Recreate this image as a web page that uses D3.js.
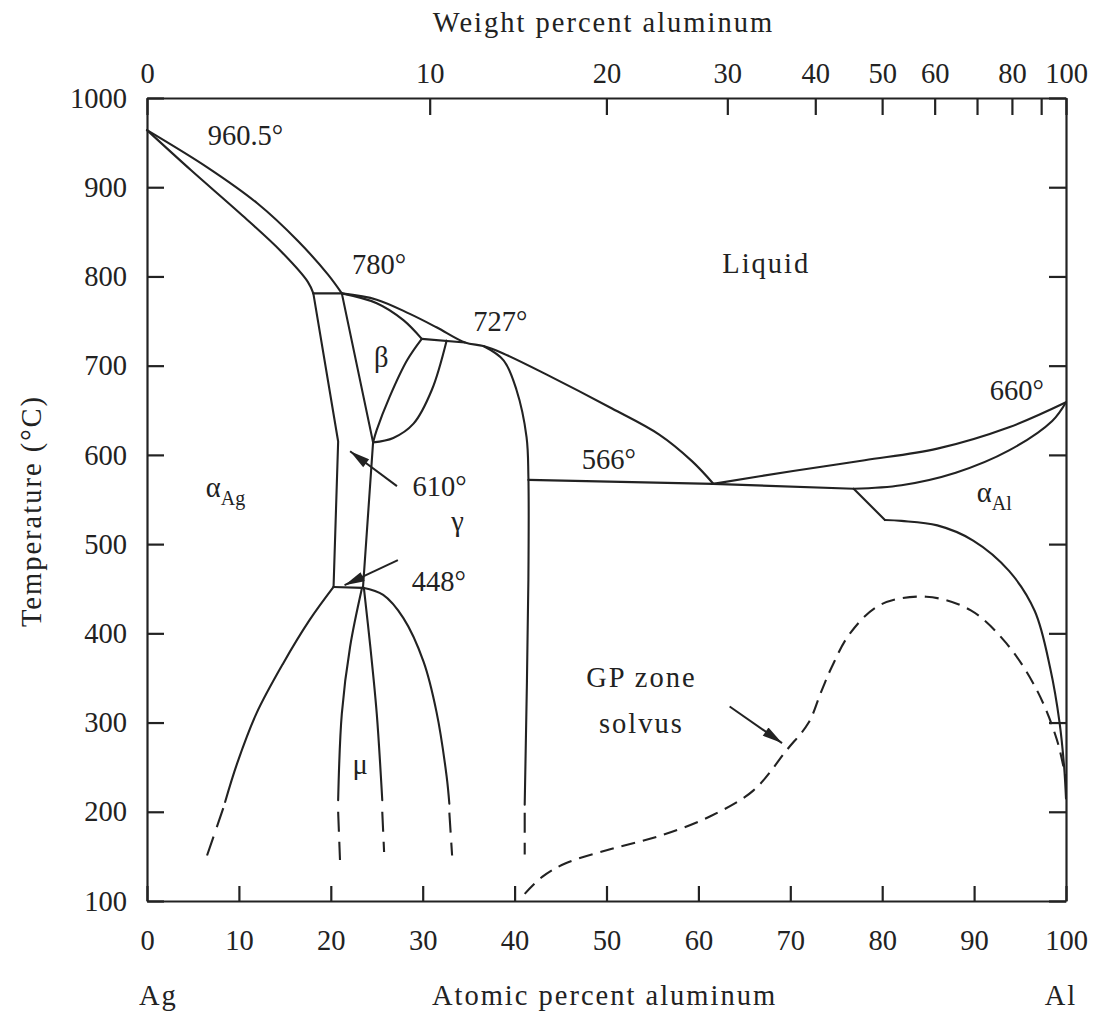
<!DOCTYPE html>
<head>
<meta charset="utf-8">
<style>
body { margin: 0; background: #fff; }
.axis path, .axis line { stroke: #222; stroke-width: 2.2px; }
.boundary { fill: none; stroke: #222; stroke-width: 2.1px; stroke-linejoin: round; stroke-linecap: round; }
.dashed { stroke-dasharray: 20,10; stroke-linecap: butt; }
.gp { stroke-dasharray: 14,8; stroke-linecap: butt; }
.arrow { fill: none; stroke: #222; stroke-width: 2px; }
</style>
<script src="https://d3js.org/d3.v7.min.js"></script>
</head>
<body>
<svg width="1106" height="1011"></svg>
<script>

// Axis ticks.
var atomicTicks = [0, 10, 20, 30, 40, 50, 60, 70, 80, 90, 100];
var tempTicks = [100, 200, 300, 400, 500, 600, 700, 800, 900, 1000];
var weightTicks = [0, 10, 20, 30, 40, 50, 60, 70, 80, 90, 100];
var weightLabels = ["0", "10", "20", "30", "40", "50", "60", "", "80", "", "100"];

// Phase boundaries, [atomic % Al, temperature in C].
var liquidusAg = [[0, 964], [6.6, 922], [12, 882], [16.4, 840], [19.7, 802], [21.2, 781]];
var solidusAg = [[0, 964], [4.8, 919], [10.2, 870], [14.6, 828], [17.5, 794], [18.1, 781]];
var peritectic780 = [[18.1, 781], [21.2, 781]];
var liquidusMid = [[21.2, 781], [25, 774], [28.6, 758], [31.5, 743], [34.6, 726], [36.6, 722],
  [38.7, 714], [43.5, 690], [50.6, 652], [55.7, 623], [59.3, 593], [61.6, 568]];
var betaSolidus = [[21.2, 781], [25, 770], [27.9, 751], [29.9, 730]];
var eutectic727 = [[29.9, 730], [34.6, 726]];
var betaRight = [[29.9, 730], [28.3, 706], [26.4, 665], [25.0, 628], [24.6, 614]];
var gammaUpperLeft = [[24.6, 614], [26.8, 619], [29.0, 635], [31.0, 673], [32.6, 728]];
var bandLeft = [[18.1, 781], [20.8, 615], [20.3, 452]];
var bandRight = [[21.2, 781], [24.6, 614], [23.5, 451]];
var eutectoid448 = [[20.3, 452], [23.5, 451]];
var alphaAgSolvus = [[20.3, 452], [17.7, 415], [14.8, 366], [11.9, 310], [9.8, 254], [8.5, 211]];
var alphaAgDash = [[8.3, 204], [6.4, 147]];
var muLeft = [[23.4, 451], [22.1, 385], [21.2, 310], [20.8, 213]];
var muLeftDash = [[20.8, 200], [21.0, 146]];
var muRight = [[23.6, 451], [24.3, 385], [25.0, 310], [25.6, 213]];
var muRightDash = [[25.6, 200], [25.8, 155]];
var gammaLower = [[23.5, 451], [25.7, 443], [27.9, 417], [30.1, 368], [31.5, 312], [32.6, 240], [32.9, 209]];
var gammaLowerDash = [[32.9, 199], [33.2, 151]];
var gammaRight = [[36.6, 722], [38.8, 706], [40.2, 673], [41.3, 620], [41.5, 576], [41.5, 460], [41.1, 208]];
var gammaRightDash = [[41.1, 199], [41.1, 152]];
var eutectic566 = [[41.5, 572], [61.6, 567.5], [76.9, 562]];
var liquidusAl = [[61.6, 567.5], [70.3, 582], [78.1, 594], [86, 607], [93.8, 631], [100, 659]];
var solidusAl = [[76.9, 562], [82.1, 566], [88, 580], [93.8, 605], [98.5, 638], [100, 659]];
var alphaAlStep = [[76.9, 562], [80.3, 527]];
var alphaAlSolvus = [[80.3, 527], [82.1, 526], [86, 521], [89.9, 504], [93.8, 470], [96.6, 425],
  [98.3, 360], [99.3, 300], [99.8, 250], [100, 215]];
var gpSolvus = [[41.1, 108], [43.0, 127], [45.5, 142], [50.4, 158], [55.8, 173], [61.3, 195], [66, 224],
  [69.6, 269], [72.0, 300], [73.3, 333], [74.5, 362], [76.5, 400], [79.8, 432], [84.8, 441], [89.6, 426],
  [93.5, 389], [96.8, 337], [99, 281], [100, 236]];

// Arrows, [from, to].
var arrow610 = [[27.2, 565], [22.1, 604]];
var arrow448 = [[27.3, 482], [21.5, 454]];
var arrowGP = [[63.4, 318], [69.1, 277]];

// Labels inside the diagram.
var phaseLabels = [
  {text: "960.5°", at: 6.6, t: 947, anchor: "start"},
  {text: "780°", at: 22.3, t: 803, anchor: "start"},
  {text: "727°", at: 35.5, t: 739, anchor: "start"},
  {text: "Liquid", at: 62.6, t: 804, anchor: "start", word: true},
  {text: "β", at: 25.5, t: 698, anchor: "middle"},
  {text: "566°", at: 47.3, t: 584, anchor: "start"},
  {text: "660°", at: 91.7, t: 661, anchor: "start"},
  {text: "α", sub: "Ag", at: 6.4, t: 553, anchor: "start"},
  {text: "α", sub: "Al", at: 90.3, t: 547, anchor: "start"},
  {text: "610°", at: 28.9, t: 554, anchor: "start"},
  {text: "γ", at: 33.8, t: 515, anchor: "middle"},
  {text: "448°", at: 28.8, t: 447, anchor: "start"},
  {text: "μ", at: 23.2, t: 242, anchor: "middle"},
  {text: "GP zone", at: 53.8, t: 340, anchor: "middle", word: true},
  {text: "solvus", at: 53.8, t: 288, anchor: "middle", word: true}
];

var SERIF = "'Liberation Serif', 'Times New Roman', Tinos, serif";

/**
 * Weight percent Al to atomic percent Al (Ag 107.87, Al 26.98).
 */
function wtToAt(w) {
  var al = w / 26.98, ag = (100 - w) / 107.87;
  return 100 * al / (al + ag);
}

/**
 * Give a text selection the book face of the figure.
 */
function serifText(sel, spaced) {
  sel.style("font-family", SERIF)
    .style("font-size", "28.5px")
    .style("fill", "#222")
    .style("letter-spacing", spaced ? "2px" : "0px");
}

function drawDiagram() {
  var svg = d3.select("svg"),
    margin = {top: 98, right: 40, bottom: 110, left: 147},
    width = +svg.attr("width") - margin.left - margin.right,
    height = +svg.attr("height") - margin.top - margin.bottom,
    g = svg.append("g").attr("transform", "translate(" + margin.left + "," + margin.top + ")");

  var x = d3.scaleLinear().domain([0, 100]).range([0, width]);
  var y = d3.scaleLinear().domain([100, 1000]).range([height, 0]);

  // Arrow head.
  svg.append("defs").append("marker")
    .attr("id", "head")
    .attr("markerUnits", "userSpaceOnUse")
    .attr("viewBox", "0 0 20 10")
    .attr("markerWidth", 22)
    .attr("markerHeight", 10)
    .attr("refX", 20)
    .attr("refY", 5)
    .attr("orient", "auto")
    .append("path")
    .attr("d", "M0,0L20,5L0,10Z")
    .attr("fill", "#222");

  // Four axes, ticks pointing inwards.
  g.append("g")
    .attr("class", "axis")
    .attr("transform", "translate(0," + height + ")")
    .call(d3.axisBottom(x).tickValues(atomicTicks).tickFormat(d3.format("d"))
      .tickSizeInner(-15).tickSizeOuter(0).tickPadding(29));
  g.append("g")
    .attr("class", "axis")
    .call(d3.axisTop(x)
      .tickValues(weightTicks.map(wtToAt))
      .tickFormat(function(d, i) { return weightLabels[i]; })
      .tickSizeInner(-17).tickSizeOuter(0).tickPadding(15));
  g.append("g")
    .attr("class", "axis")
    .call(d3.axisLeft(y).tickValues(tempTicks).tickFormat(d3.format("d"))
      .tickSizeInner(-17).tickSizeOuter(0).tickPadding(20));
  g.append("g")
    .attr("class", "axis")
    .attr("transform", "translate(" + width + ",0)")
    .call(d3.axisRight(y).tickValues(tempTicks).tickSizeInner(-17).tickSizeOuter(0)
      .tickFormat(function() { return ""; }));
  g.selectAll(".axis text").call(serifText, false);

  // Axis captions.
  svg.append("text")
    .attr("x", margin.left + width / 2 - 3).attr("y", 32)
    .attr("text-anchor", "middle").text("Weight percent aluminum")
    .call(serifText, true);
  svg.append("text")
    .attr("x", margin.left + width / 2 - 2).attr("y", 1005)
    .attr("text-anchor", "middle").text("Atomic percent aluminum")
    .call(serifText, true);
  svg.append("text")
    .attr("x", 139).attr("y", 1005).text("Ag")
    .call(serifText, true);
  svg.append("text")
    .attr("x", 1061).attr("y", 1005).attr("text-anchor", "middle").text("Al")
    .call(serifText, true);
  svg.append("text")
    .attr("transform", "translate(41,511) rotate(-90)")
    .attr("text-anchor", "middle").text("Temperature (°C)")
    .call(serifText, true);

  var smooth = d3.line()
    .curve(d3.curveCatmullRom.alpha(0.5))
    .x(function(d) { return x(d[0]); })
    .y(function(d) { return y(d[1]); });
  var straight = d3.line()
    .x(function(d) { return x(d[0]); })
    .y(function(d) { return y(d[1]); });

  var boundaries = [
    [liquidusAg, smooth], [solidusAg, smooth], [peritectic780, straight],
    [liquidusMid, smooth], [betaSolidus, smooth], [eutectic727, straight],
    [betaRight, smooth], [gammaUpperLeft, smooth], [bandLeft, straight],
    [bandRight, straight], [eutectoid448, straight], [alphaAgSolvus, smooth],
    [muLeft, smooth], [muRight, smooth], [gammaLower, smooth], [gammaRight, smooth],
    [eutectic566, straight], [liquidusAl, smooth], [solidusAl, smooth],
    [alphaAlStep, straight], [alphaAlSolvus, smooth]
  ];
  boundaries.forEach(function(b) {
    g.append("path").datum(b[0]).attr("class", "boundary").attr("d", b[1]);
  });

  // Uncertain low temperature ends.
  [alphaAgDash, muLeftDash, muRightDash, gammaLowerDash, gammaRightDash].forEach(function(pts) {
    g.append("path").datum(pts).attr("class", "boundary dashed").attr("d", straight);
  });
  g.append("path").datum(gpSolvus).attr("class", "boundary gp").attr("d", smooth);

  [arrow610, arrow448, arrowGP].forEach(function(a) {
    g.append("path").datum(a).attr("class", "arrow")
      .attr("marker-end", "url(#head)").attr("d", straight);
  });

  phaseLabels.forEach(function(d) {
    var t = g.append("text")
      .attr("x", x(d.at))
      .attr("y", y(d.t))
      .attr("text-anchor", d.anchor)
      .text(d.text)
      .call(serifText, !!d.word);
    if (d.sub) {
      t.append("tspan").attr("dy", 8).style("font-size", "20px").text(d.sub);
    }
  });
}

drawDiagram();

</script>
</body>
